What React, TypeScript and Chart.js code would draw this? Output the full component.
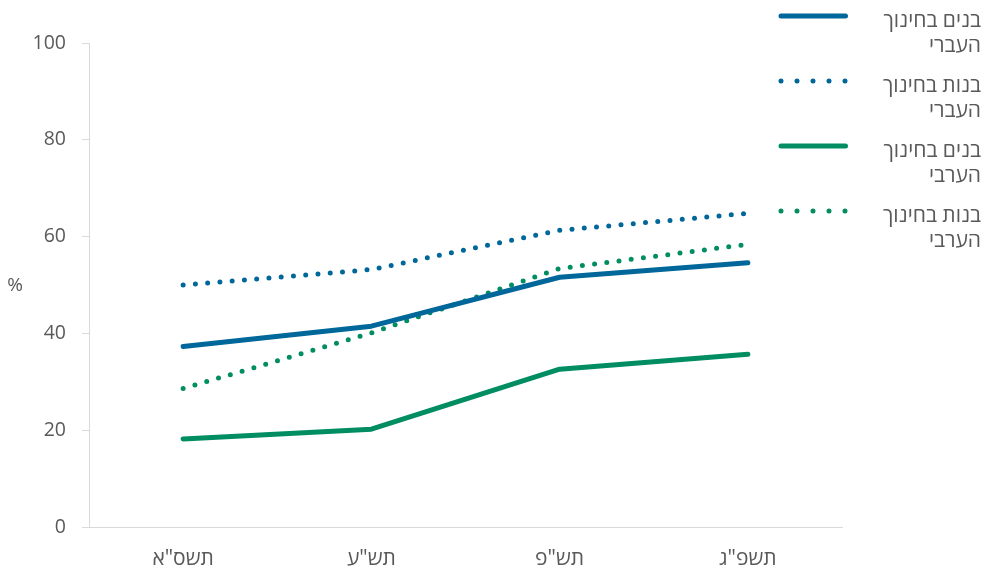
import React, { useEffect, useRef } from "react";
import { Chart, registerables } from "chart.js";

Chart.register(...registerables);

const categories = ['תשס"א', 'תש"ע', 'תש"פ', 'תשפ"ג'];
const boysHebrew = [37.3, 41.5, 51.6, 54.6];
const girlsHebrew = [50.0, 53.2, 61.3, 64.8];
const boysArab = [18.2, 20.2, 32.6, 35.7];
const girlsArab = [28.6, 40.1, 53.4, 58.4];
const seriesNames = [
  ["בנים בחינוך", "העברי"],
  ["בנות בחינוך", "העברי"],
  ["בנים בחינוך", "הערבי"],
  ["בנות בחינוך", "הערבי"],
];
const yTitle = "%";

const BLUE = "#00679A";
const GREEN = "#008D62";
const TEXT = "#595959";
const AXIS = "#D9D9D9";
const FONT = "'Open Sans', sans-serif";

const legendPlugin = {
  id: "customLegend",
  afterDraw(chart: any) {
    const ctx = chart.ctx;
    ctx.save();
    chart.data.datasets.forEach((ds: any, i: number) => {
      const y0 = 16 + 65 * i;
      ctx.beginPath();
      ctx.strokeStyle = ds.borderColor;
      ctx.lineWidth = 5;
      ctx.lineCap = "round";
      ctx.setLineDash(ds.borderDash && ds.borderDash.length ? [0, 16] : []);
      ctx.moveTo(781, y0);
      ctx.lineTo(845.5, y0);
      ctx.stroke();
      ctx.setLineDash([]);
      const lines = seriesNames[i];
      ctx.fillStyle = TEXT;
      ctx.font = "21px " + FONT;
      ctx.textAlign = "right";
      ctx.textBaseline = "middle";
      (ctx as any).direction = "rtl";
      ctx.fillText(lines[0], 981, y0 + 5);
      ctx.fillText(lines[1], 981, y0 + 30);
    });
    (ctx as any).direction = "ltr";
    ctx.fillStyle = TEXT;
    ctx.font = "19px " + FONT;
    ctx.textAlign = "center";
    ctx.textBaseline = "middle";
    ctx.fillText(yTitle, 15, 286);
    ctx.restore();
  },
};

export default function App() {
  const ref = useRef<HTMLCanvasElement | null>(null);
  useEffect(() => {
    if (!ref.current) return;
    const mk = (label: string, data: number[], color: string, dotted: boolean) => ({
      label,
      data,
      borderColor: color,
      backgroundColor: color,
      borderWidth: 5,
      borderDash: dotted ? [0, 12.3] : [],
      borderCapStyle: "round" as const,
      borderJoinStyle: "round" as const,
      pointRadius: 0,
      pointHoverRadius: 0,
      tension: 0,
      fill: false,
    });
    const chart = new Chart(ref.current, {
      type: "line",
      data: {
        labels: categories,
        datasets: [
          mk(seriesNames[0].join(" "), boysHebrew, BLUE, false),
          mk(seriesNames[1].join(" "), girlsHebrew, BLUE, true),
          mk(seriesNames[2].join(" "), boysArab, GREEN, false),
          mk(seriesNames[3].join(" "), girlsArab, GREEN, true),
        ],
      },
      options: {
        animation: false,
        responsive: false,
        devicePixelRatio: 1,
        layout: { padding: { top: 43, right: 146, left: 0, bottom: 0 } },
        plugins: {
          legend: { display: false },
          tooltip: { enabled: false },
        },
        scales: {
          x: {
            offset: true,
            grid: { display: false, drawTicks: false },
            border: { display: true, color: AXIS, width: 1 },
            ticks: {
              color: TEXT,
              font: { family: FONT, size: 21 },
              padding: 19,
              maxRotation: 0,
            },
            afterFit(scale: any) {
              scale.height = 43;
            },
          },
          y: {
            min: 0,
            max: 100,
            ticks: {
              stepSize: 20,
              color: TEXT,
              font: { family: FONT, size: 19.5 },
              padding: 16,
            },
            grid: {
              display: true,
              drawOnChartArea: false,
              drawTicks: true,
              tickLength: 7,
              color: AXIS,
            },
            border: { display: true, color: AXIS, width: 1 },
            afterFit(scale: any) {
              scale.width = 89;
            },
          },
        },
      },
      plugins: [legendPlugin],
    });
    return () => chart.destroy();
  }, []);
  return (
    <div style={{ position: "absolute", left: 0, top: 0, width: 988, height: 570, background: "#fff" }}>
      <canvas ref={ref} width={988} height={570} style={{ display: "block" }} />
    </div>
  );
}
